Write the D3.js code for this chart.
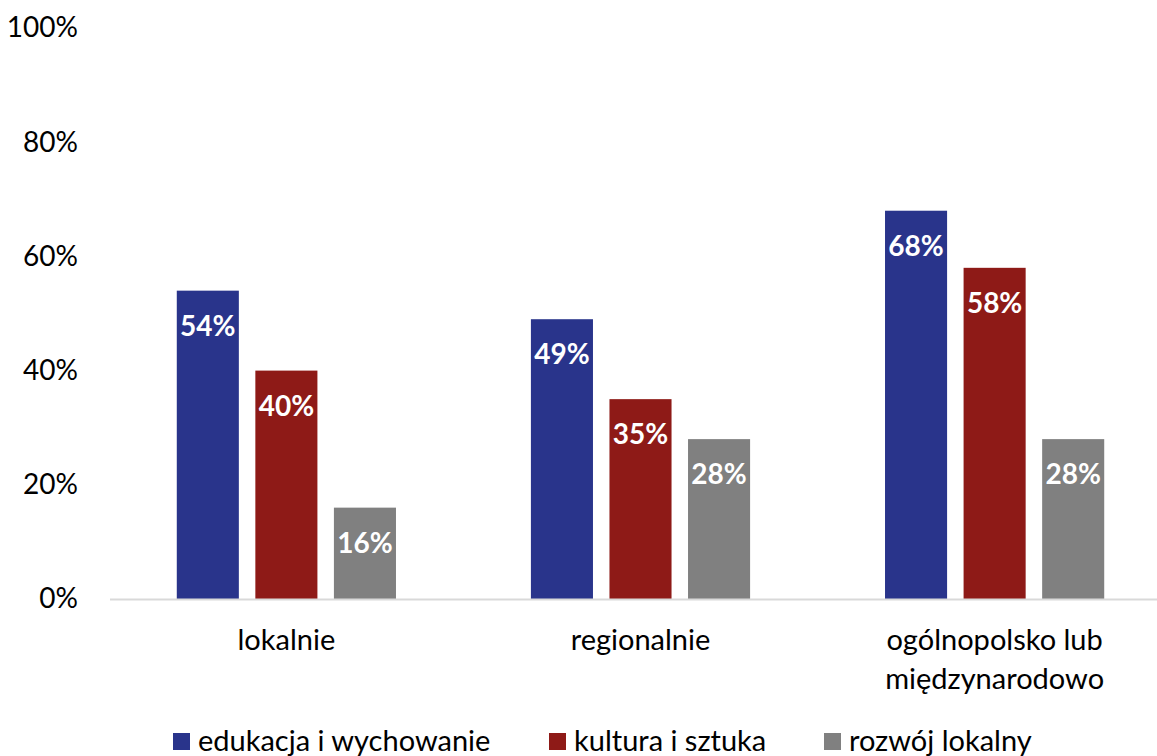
<!DOCTYPE html>
<html>
<head>
<meta charset="utf-8">
<script src="https://cdn.jsdelivr.net/npm/d3@7"></script>
<style>
  body { margin: 0; background: #fff; }
  svg { display: block; font-family: Lato, "Open Sans", sans-serif; }
</style>
</head>
<body>
<svg width="1157" height="756"></svg>
<script>
var categories = [["lokalnie"], ["regionalnie"], ["ogólnopolsko lub", "międzynarodowo"]];
var seriesNames = ["edukacja i wychowanie", "kultura i sztuka", "rozwój lokalny"];
var seriesColors = ["#29348b", "#8e1a17", "#808080"];
var edukacja = [54, 49, 68];
var kultura = [40, 35, 58];
var rozwoj = [16, 28, 28];
var yTicks = [0, 20, 40, 60, 80, 100];

var series = [edukacja, kultura, rozwoj];

var svg = d3.select("svg");

var y = d3.scaleLinear().domain([0, 100]).range([599, 28]);

var x0 = d3.scaleBand()
  .domain(d3.range(categories.length))
  .range([109.5, 1171.5])
  .paddingInner(0.381)
  .paddingOuter(0.19);

var x1 = d3.scaleBand()
  .domain(d3.range(series.length))
  .range([0, x0.bandwidth()])
  .paddingInner(0.21);

// y tick labels
var yAxis = d3.axisLeft(y)
  .tickValues(yTicks)
  .tickFormat(function(d) { return d + "%"; })
  .tickSize(0)
  .tickPadding(0);

var gy = svg.append("g")
  .attr("transform", "translate(78,0)")
  .call(yAxis);
gy.select(".domain").remove();
gy.selectAll("text")
  .attr("font-size", "28px")
  .attr("font-family", "Lato, sans-serif")
  .attr("fill", "#000");

// bars
var groups = svg.append("g")
  .selectAll("g")
  .data(categories)
  .enter()
  .append("g")
  .attr("transform", function(d, i) { return "translate(" + x0(i) + ",0)"; });

groups.selectAll("rect")
  .data(function(d, i) { return series.map(function(s, j) { return { s: j, v: s[i] }; }); })
  .enter()
  .append("rect")
  .attr("x", function(d) { return x1(d.s); })
  .attr("width", x1.bandwidth())
  .attr("y", function(d) { return y(d.v); })
  .attr("height", function(d) { return y(0) - y(d.v); })
  .attr("fill", function(d) { return seriesColors[d.s]; });

groups.selectAll("text.val")
  .data(function(d, i) { return series.map(function(s, j) { return { s: j, v: s[i] }; }); })
  .enter()
  .append("text")
  .attr("class", "val")
  .attr("x", function(d) { return x1(d.s) + x1.bandwidth() / 2; })
  .attr("y", function(d) { return y(d.v) + 45; })
  .attr("text-anchor", "middle")
  .attr("font-size", "28px")
  .attr("font-weight", "bold")
  .attr("fill", "#fff")
  .text(function(d) { return d.v + "%"; });

// x axis line
svg.append("line")
  .attr("x1", 110)
  .attr("x2", 1157)
  .attr("y1", y(0) + 0.5)
  .attr("y2", y(0) + 0.5)
  .attr("stroke", "#d9d9d9")
  .attr("stroke-width", 2);

// category labels
svg.append("g")
  .selectAll("text")
  .data(categories)
  .enter()
  .append("text")
  .attr("text-anchor", "middle")
  .attr("font-size", "29px")
  .attr("fill", "#000")
  .attr("transform", function(d, i) { return "translate(" + (x0(i) + x0.bandwidth() / 2) + ",650)"; })
  .selectAll("tspan")
  .data(function(d) { return d; })
  .enter()
  .append("tspan")
  .attr("x", 0)
  .attr("dy", function(d, i) { return i === 0 ? 0 : 39; })
  .text(function(d) { return d; });

// legend
var legendX = [173, 549, 824];
var legend = svg.append("g")
  .selectAll("g")
  .data(seriesNames)
  .enter()
  .append("g")
  .attr("transform", function(d, i) { return "translate(" + legendX[i] + ",733)"; });

legend.append("rect")
  .attr("width", 17)
  .attr("height", 17)
  .attr("fill", function(d, i) { return seriesColors[i]; });

legend.append("text")
  .attr("x", 25)
  .attr("y", 18)
  .attr("font-size", "29px")
  .attr("fill", "#000")
  .text(function(d) { return d; });
</script>
</body>
</html>
